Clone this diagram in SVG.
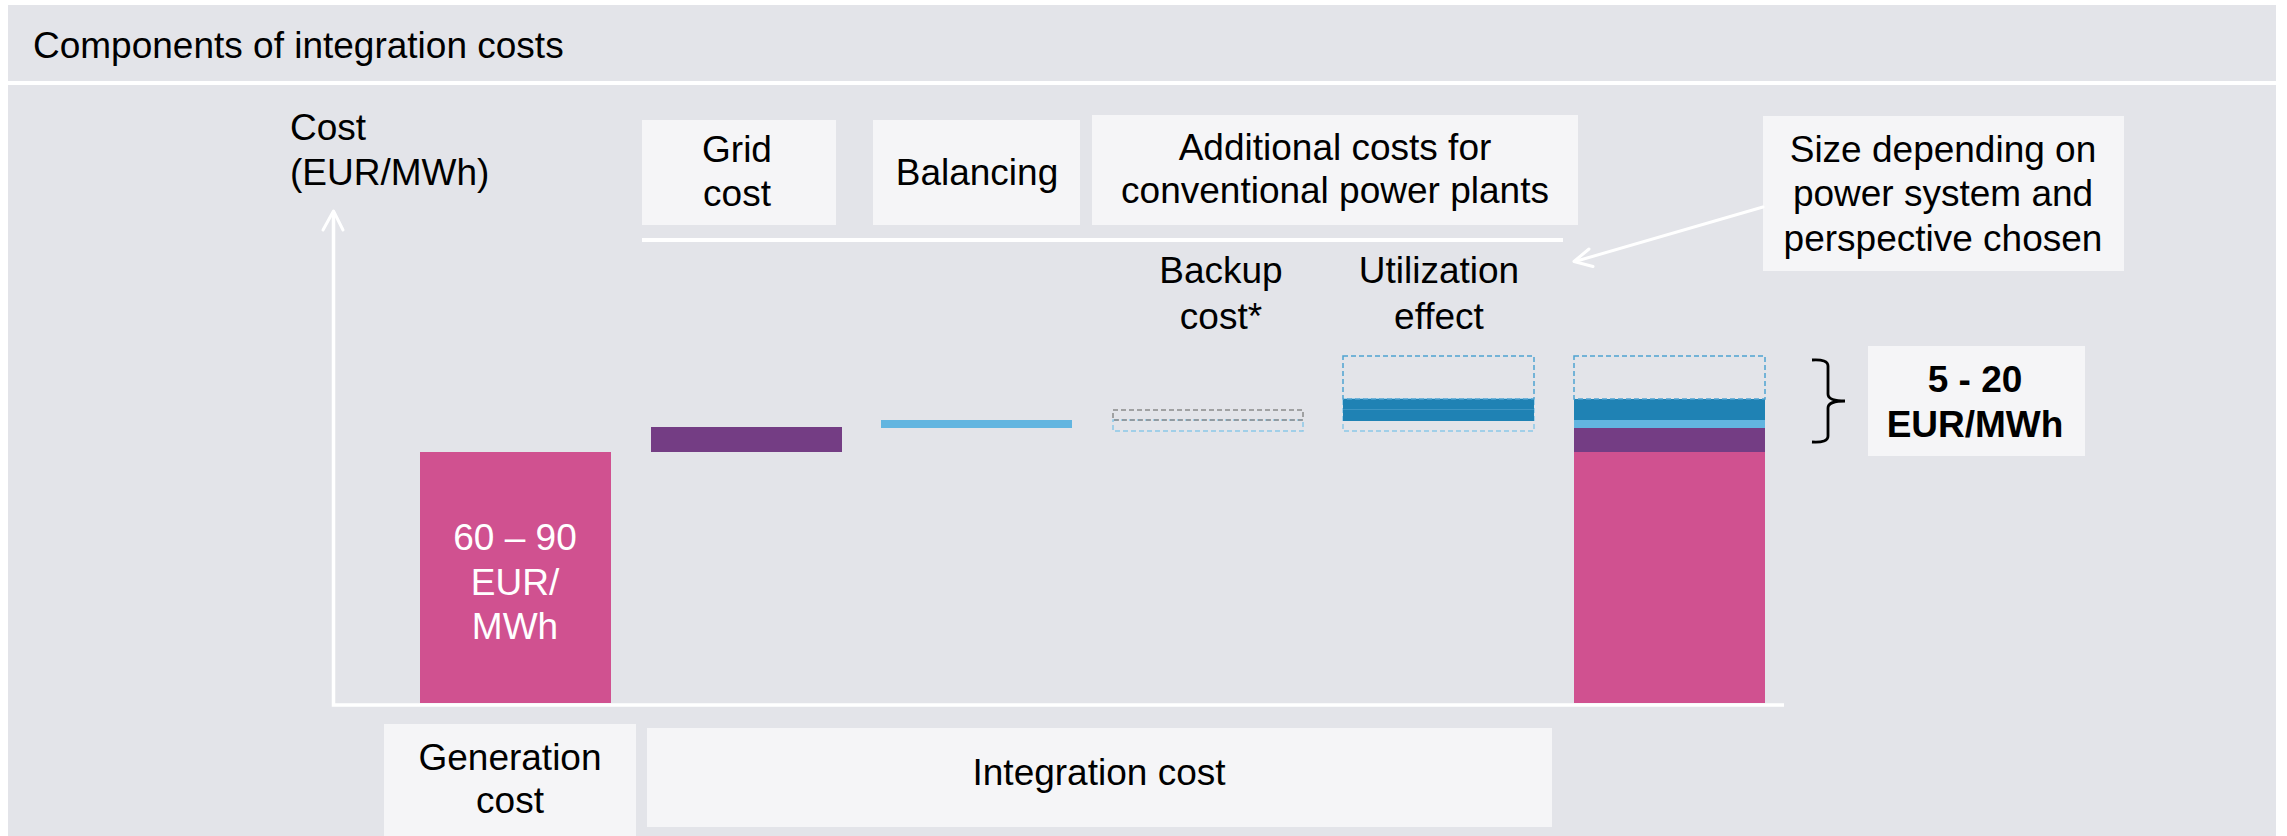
<svg xmlns="http://www.w3.org/2000/svg" width="2287" height="836" viewBox="0 0 2287 836">
<defs>
<style>
.bg{fill:#E3E4E9}
.box{fill:#F5F5F7}
.t{font-family:"Liberation Sans",Arial,sans-serif;font-size:37px;fill:#000}
.c{text-anchor:middle}
.b{font-weight:bold}
.w{fill:#FFFFFF}
.axis{stroke:#FFFFFF;stroke-width:3.5;fill:none}
.wl{stroke:#FFFFFF;stroke-width:3;fill:none;stroke-linecap:round;stroke-linejoin:round}
.dblue{fill:none;stroke:#4FA3D1;stroke-width:1.5;stroke-dasharray:5 3}
.dlight{fill:none;stroke:#8CC8E8;stroke-width:1.5;stroke-dasharray:5 3}
.dgray{fill:none;stroke:#8A8A8A;stroke-width:1.5;stroke-dasharray:5 3}
</style>
</defs>
<rect x="0" y="0" width="2287" height="836" fill="#FFFFFF"/>
<g id="header">
<rect class="bg" x="8" y="5" width="2268" height="76"/>
<text class="t" x="33" y="58">Components of integration costs</text>
</g>
<rect class="bg" x="8" y="85" width="2268" height="751"/>

<g id="axis-label">
<text class="t" x="290" y="140">Cost</text>
<text class="t" x="290" y="185">(EUR/MWh)</text>
</g>

<g id="grid-label">
<rect class="box" x="642" y="120" width="194" height="105"/>
<text class="t c" x="737" y="162">Grid</text>
<text class="t c" x="737" y="206">cost</text>
</g>
<g id="balancing-label">
<rect class="box" x="873" y="120" width="207" height="105"/>
<text class="t c" x="977" y="185">Balancing</text>
</g>
<g id="additional-label">
<rect class="box" x="1092" y="115" width="486" height="110"/>
<text class="t c" x="1335" y="160">Additional costs for</text>
<text class="t c" x="1335" y="203">conventional power plants</text>
</g>
<g id="backup-label">
<text class="t c" x="1221" y="283">Backup</text>
<text class="t c" x="1221" y="329">cost*</text>
</g>
<g id="utilization-label">
<text class="t c" x="1439" y="283">Utilization</text>
<text class="t c" x="1439" y="329">effect</text>
</g>
<g id="size-note">
<rect class="box" x="1763" y="116" width="361" height="155"/>
<text class="t c" x="1943" y="162">Size depending on</text>
<text class="t c" x="1943" y="206">power system and</text>
<text class="t c" x="1943" y="251">perspective chosen</text>
</g>

<g id="generation-bar">
<rect x="420" y="452" width="191" height="251" fill="#D05190"/>
<text class="t c w" x="515" y="550">60 – 90</text>
<text class="t c w" x="515" y="595">EUR/</text>
<text class="t c w" x="515" y="639">MWh</text>
</g>
<g id="grid-bar">
<rect x="651" y="427" width="191" height="25" fill="#743D84"/>
</g>
<g id="balancing-bar">
<rect x="881" y="420" width="191" height="8" fill="#62B5E0"/>
</g>
<g id="backup-bar">
<rect class="dlight" x="1113" y="420" width="190" height="11"/>
<rect class="dgray" x="1113" y="410" width="190" height="10"/>
</g>
<g id="utilization-bar">
<rect class="dlight" x="1343" y="399" width="191" height="32"/>
<rect x="1343" y="399" width="191" height="22" fill="#1F82B4"/>
<line x1="1343" y1="409.5" x2="1534" y2="409.5" stroke="#3D95C3" stroke-width="1"/>
<rect class="dblue" x="1343" y="356" width="191" height="43"/>
</g>
<g id="total-bar">
<rect x="1574" y="452" width="191" height="251" fill="#D05190"/>
<rect x="1574" y="428" width="191" height="24" fill="#743D84"/>
<rect x="1574" y="420" width="191" height="8" fill="#62B5E0"/>
<rect x="1574" y="399" width="191" height="21" fill="#1F82B4"/>
<rect class="dblue" x="1574" y="356" width="191" height="43"/>
</g>
<g id="range-label">
<rect class="box" x="1868" y="346" width="217" height="110"/>
<text class="t c b" x="1975" y="392">5 - 20</text>
<text class="t c b" x="1975" y="437">EUR/MWh</text>
</g>
<g id="generation-label">
<rect class="box" x="384" y="724" width="252" height="112"/>
<text class="t c" x="510" y="770">Generation</text>
<text class="t c" x="510" y="813">cost</text>
</g>
<g id="integration-label">
<rect class="box" x="647" y="728" width="905" height="99"/>
<text class="t c" x="1099" y="785">Integration cost</text>
</g>

<g id="connectors">
<path class="axis" d="M333.5 212 V705 H1784"/>
<path class="wl" d="M323 230 L333.5 211 L343 230"/>
<line x1="642" y1="240" x2="1563" y2="240" stroke="#FFFFFF" stroke-width="4"/>
<line class="wl" x1="1763" y1="207" x2="1575" y2="261.5"/>
<path class="wl" d="M1589 249 L1574 261.5 L1593 266.5"/>
<path d="M1812 360 Q1828 359 1828 366 V394 Q1828 401 1845 401 Q1828 401 1828 408 V436 Q1828 443 1812 442" fill="none" stroke="#000" stroke-width="2.8"/>
</g>
</svg>
